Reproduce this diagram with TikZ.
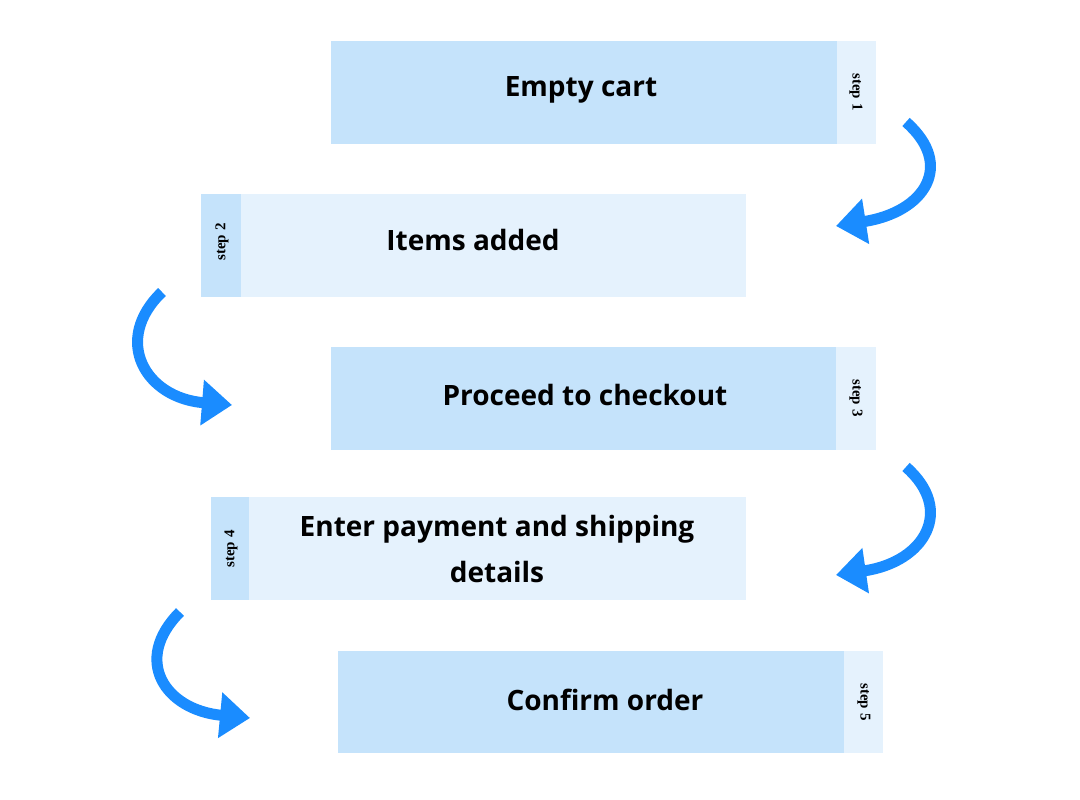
\documentclass[tikz,border=0pt]{standalone}
\usepackage{fontspec}
\setmainfont{Open Sans}
\newfontfamily\stepfont{Liberation Serif}
\usetikzlibrary{arrows.meta}
\definecolor{dark}{HTML}{C5E3FB}
\definecolor{light}{HTML}{E5F2FD}
\definecolor{arr}{HTML}{1A8CFF}
\tikzset{
 x=1pt,y=-1pt,
 lbl/.style={font=\fontsize{28}{46}\selectfont\bfseries,align=center},
 steplbl/.style={font=\stepfont\fontsize{15}{17}\selectfont\bfseries},
 swoosh/.style={draw=arr,line width=11pt,-{Triangle[length=30pt,width=44pt]}}
}
\begin{document}
\begin{tikzpicture}
\useasboundingbox (0,0) rectangle (1080,800);
% box 1
\fill[dark] (331,41) rectangle (837,144);
\fill[light] (837,41) rectangle (876,144);
\node[lbl] (b1) at (581,90) {Empty cart};
\node[steplbl,rotate=-90] (s1) at (856,92) {step 1};
% box 2
\fill[dark] (201,194) rectangle (241,297);
\fill[light] (241,194) rectangle (746,297);
\node[lbl] (b2) at (473,240) {Items added};
\node[steplbl,rotate=90] (s2) at (222,242) {step 2};
% box 3
\fill[dark] (331,347) rectangle (836,450);
\fill[light] (836,347) rectangle (876,450);
\node[lbl] (b3) at (585,395) {Proceed to checkout};
\node[steplbl,rotate=-90] (s3) at (856,398) {step 3};
% box 4
\fill[dark] (211,497) rectangle (249,600);
\fill[light] (249,497) rectangle (746,600);
\node[lbl] (b4) at (497,549) {Enter payment and shipping\\details};
\node[steplbl,rotate=90] (s4) at (231,549) {step 4};
% box 5
\fill[dark] (338,651) rectangle (844,753);
\fill[light] (844,651) rectangle (883,753);
\node[lbl] (b5) at (605,700) {Confirm order};
\node[steplbl,rotate=-90] (s5) at (864,702) {step 5};
% arrows
\coordinate (a1s) at (906,122); \coordinate (a1e) at (836,226);
\coordinate (a2s) at (162,292); \coordinate (a2e) at (232,405);
\coordinate (a3s) at (906,467); \coordinate (a3e) at (836,575);
\coordinate (a4s) at (180,612); \coordinate (a4e) at (250,718);
\draw[swoosh] (a1s) .. controls (955,165) and (925,212) .. (a1e);
\draw[swoosh] (a2s) .. controls (112,340) and (145,398) .. (a2e);
\draw[swoosh] (a3s) .. controls (955,510) and (925,562) .. (a3e);
\draw[swoosh] (a4s) .. controls (132,660) and (165,710) .. (a4e);
\end{tikzpicture}
\end{document}
